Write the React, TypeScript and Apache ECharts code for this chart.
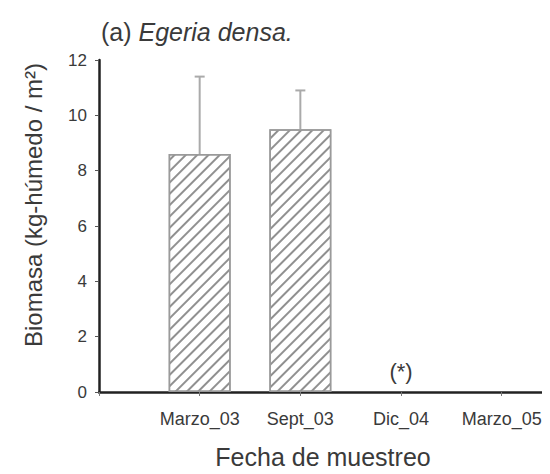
import React, { useEffect, useRef } from "react";
import * as echarts from "echarts";

const categories = ["Marzo_03", "Sept_03", "Dic_04", "Marzo_05"];
const biomass = [8.6, 9.5, 0, 0];
const errorTop = [11.4, 10.9, null, null];
const notes = ["", "", "(*)", ""];
const yTicks = [0, 2, 4, 6, 8, 10, 12];

export default function App() {
  const ref = useRef<HTMLDivElement>(null);
  useEffect(() => {
    if (!ref.current) return;
    const chart = echarts.init(ref.current, null, { renderer: "svg" });
    const font = "Liberation Sans, Arial, Helvetica, sans-serif";
    const barData = categories.map((c, i) => ({
      value: [i + 1, biomass[i]],
      label: { show: notes[i] !== "", formatter: notes[i] },
      itemStyle: biomass[i] === 0 ? { borderWidth: 0 } : undefined,
    }));
    const errData = categories
      .map((c, i) => (errorTop[i] == null ? null : [i + 1, biomass[i], errorTop[i]]))
      .filter((d) => d !== null);
    chart.setOption({
      animation: false,
      backgroundColor: "#fff",
      title: {
        text: "{a|(a) }{b|Egeria densa.}",
        left: 96,
        top: 14,
        textStyle: {
          fontWeight: "normal",
          rich: {
            a: { fontSize: 25, fontFamily: font, color: "#3a3a3a", fontWeight: "normal" },
            b: { fontSize: 25, fontFamily: font, color: "#3a3a3a", fontStyle: "italic", fontWeight: "normal" },
          },
        },
      },
      grid: { left: 99, right: 0, top: 60, bottom: 81, containLabel: false },
      xAxis: {
        type: "value",
        min: 0,
        max: 4.45,
        interval: 1,
        name: "Fecha de muestreo",
        nameLocation: "middle",
        nameGap: 52,
        nameTextStyle: { fontSize: 25, fontFamily: font, color: "#3a3a3a" },
        axisLine: { show: true, lineStyle: { color: "#222", width: 2.5 } },
        axisTick: { show: true, length: 4, lineStyle: { color: "#777", width: 1 } },
        splitLine: { show: false },
        axisLabel: {
          fontSize: 18,
          fontFamily: font,
          color: "#3a3a3a",
          margin: 18,
          formatter: (v: number) => (v >= 1 && v <= categories.length ? categories[v - 1] : ""),
        },
      },
      yAxis: {
        type: "value",
        min: 0,
        max: 12,
        interval: 2,
        axisLine: { show: true, lineStyle: { color: "#222", width: 2.5 } },
        axisTick: { show: true, length: 4, lineStyle: { color: "#555", width: 1 } },
        splitLine: { show: false },
        axisLabel: {
          fontSize: 17,
          fontFamily: font,
          color: "#3a3a3a",
          margin: 12,
          customValues: yTicks,
        },
      },
      graphic: [
        {
          type: "text",
          x: 33,
          y: 205,
          rotation: Math.PI / 2,
          style: {
            text: "Biomasa (kg-húmedo / m²)",
            fontSize: 24,
            fontFamily: font,
            fill: "#3a3a3a",
            align: "center",
            verticalAlign: "middle",
          },
        },
      ],
      series: [
        {
          type: "bar",
          barWidth: 62,
          data: barData,
          itemStyle: {
            color: "#fff",
            borderColor: "#9a9a9a",
            borderWidth: 1.5,
            decal: {
              symbol: "rect",
              symbolSize: 1,
              dashArrayX: [1, 0],
              dashArrayY: [1.4, 5.8],
              rotation: -Math.PI / 4,
              color: "#909090",
              backgroundColor: "#fff",
            },
          },
          label: {
            position: "top",
            distance: 10,
            fontSize: 22,
            fontFamily: font,
            color: "#3a3a3a",
          },
          z: 2,
        },
        {
          type: "custom",
          data: errData,
          z: 3,
          renderItem: (params: any, api: any) => {
            const x = api.value(0);
            const base = api.coord([x, api.value(1)]);
            const top = api.coord([x, api.value(2)]);
            const cap = 5;
            return {
              type: "group",
              children: [
                {
                  type: "line",
                  shape: { x1: base[0], y1: base[1], x2: top[0], y2: top[1] },
                  style: { stroke: "#aaa", lineWidth: 2 },
                },
                {
                  type: "line",
                  shape: { x1: top[0] - cap, y1: top[1], x2: top[0] + cap, y2: top[1] },
                  style: { stroke: "#aaa", lineWidth: 2 },
                },
              ],
            };
          },
        },
      ],
    });
    return () => chart.dispose();
  }, []);
  return <div ref={ref} style={{ width: 550, height: 474, margin: -8 }} />;
}
